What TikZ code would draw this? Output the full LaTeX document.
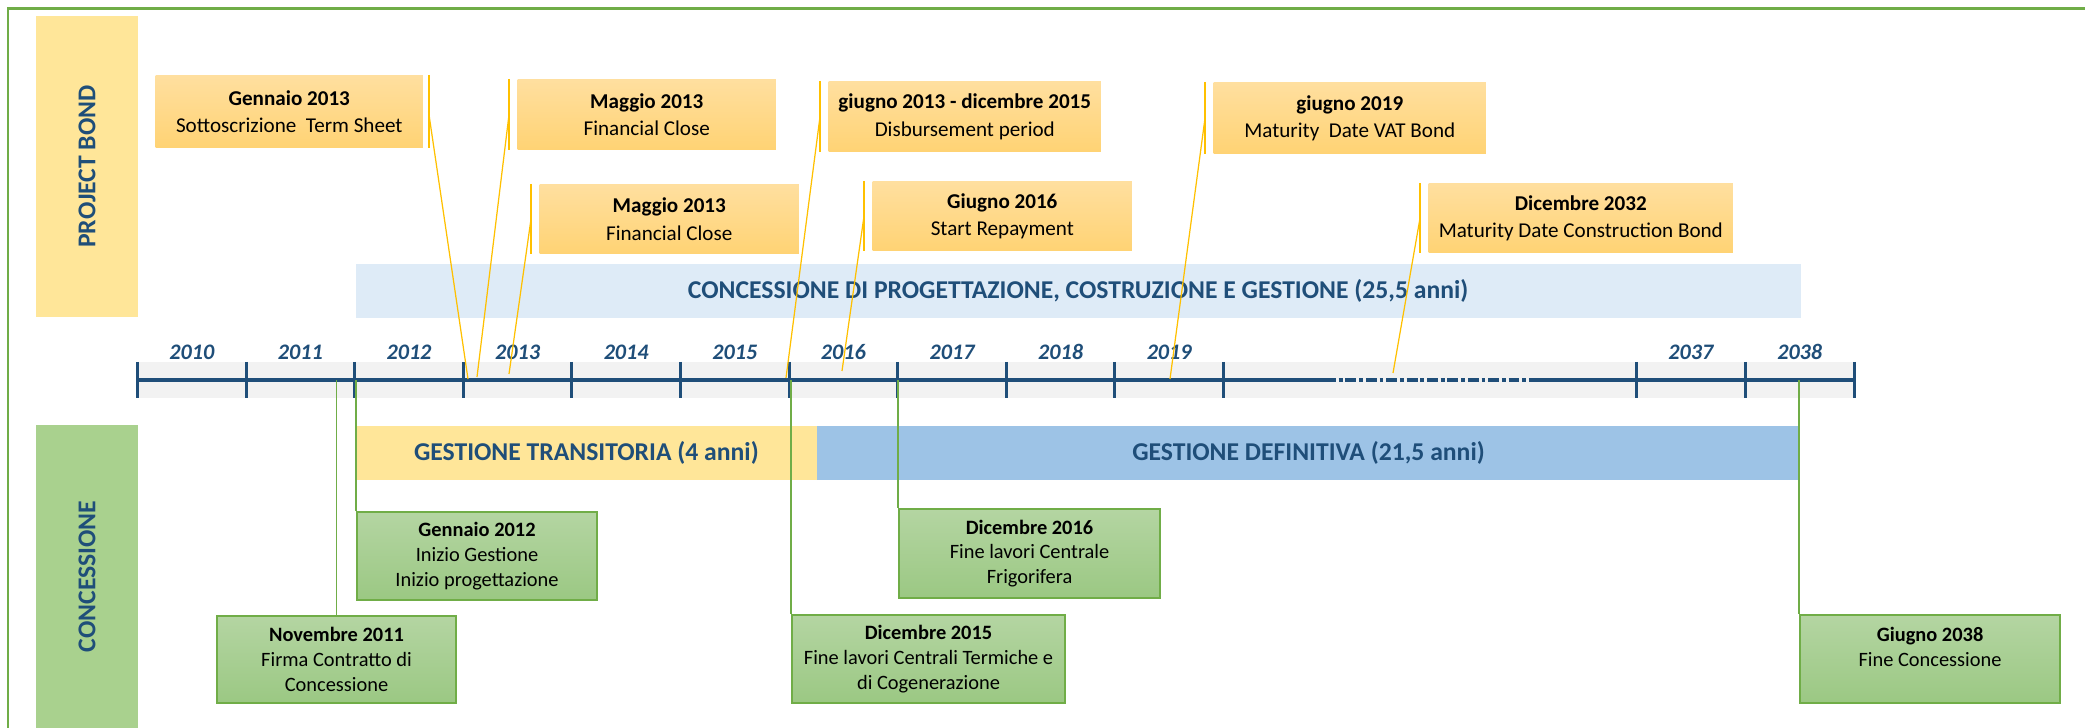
\documentclass[tikz,border=0pt]{standalone}
\usepackage{fontspec}
\setmainfont{Carlito}
\definecolor{dblue}{HTML}{1F4E79}
\definecolor{frameg}{HTML}{70AD47}
\definecolor{pbband}{HTML}{FFE699}
\definecolor{coband}{HTML}{A9D18E}
\definecolor{lblue}{HTML}{DEEBF7}
\definecolor{mblue}{HTML}{9DC3E6}
\definecolor{axgray}{HTML}{F2F2F2}
\definecolor{ytop}{HTML}{FFDF9F}
\definecolor{ybot}{HTML}{FFD374}
\definecolor{gtop}{HTML}{B4D5A2}
\definecolor{gbot}{HTML}{9BC883}
\definecolor{accent}{HTML}{FFC000}
\tikzset{
  ybox/.style={top color=ytop, bottom color=ybot, draw=none, inner sep=0pt, align=center,
    font=\fontsize{6}{7.8}\selectfont, anchor=north west},
  gbox/.style={top color=gtop, bottom color=gbot, draw=frameg, line width=0.55pt, inner sep=0pt,
    align=center, font=\fontsize{5.8}{7}\selectfont, anchor=north west},
  band/.style={inner sep=0pt, font=\fontsize{7.3}{8}\selectfont\bfseries, text=dblue},
  yearlbl/.style={font=\fontsize{6.3}{7}\selectfont\bfseries\itshape, text=dblue},
  accbar/.style={draw=accent, line width=0.6pt},
  yconn/.style={draw=accent, line width=0.35pt},
  gconn/.style={draw=frameg, line width=0.4pt},
  axisline/.style={draw=dblue, line width=1.1pt},
  tickline/.style={draw=dblue, line width=0.85pt}
}
\begin{document}
\begin{tikzpicture}[x=0.01cm, y=-0.01cm]
\useasboundingbox (0,0) rectangle (2085,728);
% frame
\draw[frameg, line width=0.85pt] (8,728) -- (8,9) -- (2085,9);
% side bands
\node[band, rotate=90, fill=pbband, minimum width=3.01cm, minimum height=1.02cm] (pb) at (87,166.5) {PROJECT BOND};
\node[band, rotate=90, fill=coband, minimum width=3.03cm, minimum height=1.02cm] (co) at (87,576.5) {CONCESSIONE};
% period bands
\node[band, fill=lblue, minimum width=14.44cm, minimum height=0.54cm, anchor=north west] (conc) at (355,263)
  {CONCESSIONE DI PROGETTAZIONE, COSTRUZIONE E GESTIONE (25,5 anni)};
\node[band, fill=pbband, minimum width=4.61cm, minimum height=0.54cm, anchor=north west] (trans) at (355,425)
  {GESTIONE TRANSITORIA (4 anni)};
\node[band, fill=mblue, minimum width=9.83cm, minimum height=0.54cm, anchor=north west] (defi) at (816,425)
  {GESTIONE DEFINITIVA (21,5 anni)};
% axis
\fill[axgray] (137.5,362) rectangle (1854,398);
\foreach \i/\x in {0/137.5,1/246.1,2/354.7,3/463.3,4/571.9,5/680.5,6/789.1,7/897.7,8/1006.3,9/1114.9,10/1223.5,11/1636.3,12/1745.3,13/1854}{
  \coordinate (t\i) at (\x,380);
  \draw[tickline] (\x,362) -- (\x,398);
}
\coordinate (d1) at (1325,380);
\coordinate (d2) at (1538,380);
\draw[axisline] (t0) -- (d1);
\draw[axisline, dash pattern=on 3.1pt off 0.8pt on 1.1pt off 0.8pt] (d1) -- (d2);
\draw[axisline] (d2) -- (t13);
\foreach \y/\x in {2010/191.8,2011/300.4,2012/409,2013/517.6,2014/626.2,2015/734.8,2016/843.4,2017/952,2018/1060.6,2019/1169.2,2037/1690.8,2038/1799.7}{
  \node[yearlbl] (y\y) at (\x,352) {\y};
}
% yellow callouts
\node[ybox, minimum width=2.67cm, minimum height=0.72cm] (Y1) at (155,75) {\textbf{Gennaio 2013}\\Sottoscrizione\ \ Term Sheet};
\node[ybox, minimum width=2.58cm, minimum height=0.70cm] (Y2) at (517,79) {\textbf{Maggio 2013}\\Financial Close};
\node[ybox, minimum width=2.59cm, minimum height=0.69cm] (Y3) at (539,184) {\textbf{Maggio 2013}\\Financial Close};
\node[ybox, minimum width=2.72cm, minimum height=0.70cm] (Y4) at (828,81) {\textbf{giugno 2013 - dicembre 2015}\\Disbursement period};
\node[ybox, minimum width=2.59cm, minimum height=0.69cm] (Y5) at (872,181) {\textbf{Giugno 2016}\\Start Repayment};
\node[ybox, minimum width=2.72cm, minimum height=0.71cm] (Y6) at (1213,82) {\textbf{giugno 2019}\\Maturity\ \ Date VAT Bond};
\node[ybox, minimum width=3.04cm, minimum height=0.69cm] (Y7) at (1428,183) {\textbf{Dicembre 2032}\\Maturity Date Construction Bond};
% green callouts
\node[gbox, minimum width=2.40cm, minimum height=0.88cm] (G1) at (356,511) {\textbf{Gennaio 2012}\\Inizio Gestione\\Inizio progettazione};
\node[gbox, minimum width=2.39cm, minimum height=0.87cm] (G2) at (216,615) {\textbf{Novembre 2011}\\Firma Contratto di\\Concessione};
\node[gbox, minimum width=2.61cm, minimum height=0.89cm] (G3) at (898,508) {\textbf{Dicembre 2016}\\Fine lavori Centrale\\Frigorifera};
\node[gbox, minimum width=2.73cm, minimum height=0.88cm] (G4) at (791,614) {\textbf{Dicembre 2015}\\Fine lavori Centrali Termiche e\\di Cogenerazione};
\node[gbox, minimum width=2.60cm, minimum height=0.88cm] (G5) at (1799,614) {\textbf{Giugno 2038}\\Fine Concessione\\~};
% green connectors
\draw[gconn] (G1.north west) -- (G1.north west |- t2);
\draw[gconn] (G2.north) -- (G2.north |- t2);
\draw[gconn] (G3.north west) -- (G3.north west |- t7);
\draw[gconn] (G4.north west) -- (G4.north west |- t6);
\draw[gconn] (G5.north west) -- (G5.north west |- t12);
% yellow accent bars and connectors
\coordinate (e1) at (468,379);
\coordinate (e2) at (477,377);
\coordinate (e3) at (509,374);
\coordinate (e4) at (786,378);
\coordinate (e5) at (842,371);
\coordinate (e6) at (1170,379);
\coordinate (e7) at (1393,373);
\draw[accbar] ([xshift=0.05cm]Y1.north east) -- ([xshift=0.05cm]Y1.south east);
\draw[yconn] ([xshift=0.05cm]Y1.east) -- (e1);
\foreach \n in {2,...,7}{
  \draw[accbar] ([xshift=-0.08cm]Y\n.north west) -- ([xshift=-0.08cm]Y\n.south west);
  \draw[yconn] ([xshift=-0.08cm]Y\n.west) -- (e\n);
}
\end{tikzpicture}
\end{document}
